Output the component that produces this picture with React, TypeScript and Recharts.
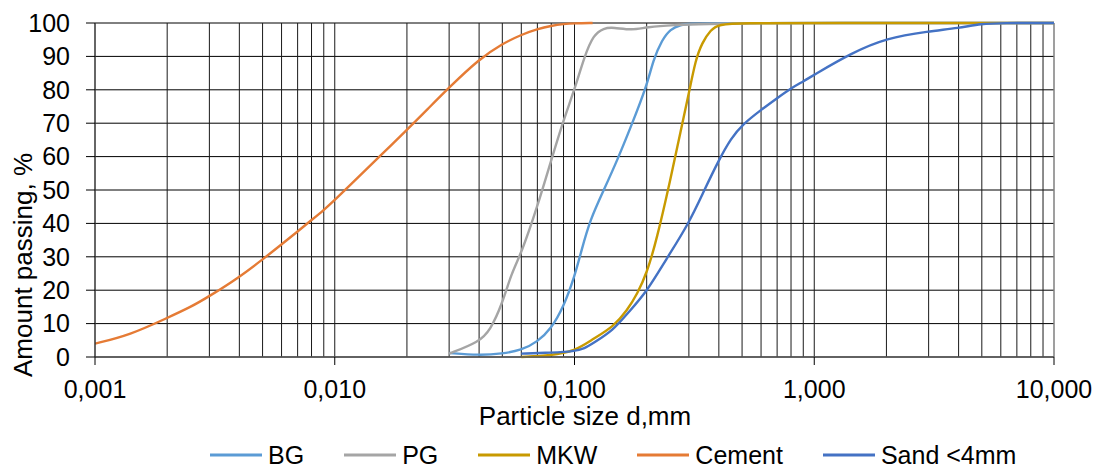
import React from 'react';
import { LineChart, Line, XAxis, YAxis, CartesianGrid, Legend, ReferenceLine } from 'recharts';

// particle size (mm) / amount passing (%)
const bgSize = [0.03, 0.04, 0.05, 0.06, 0.07, 0.08, 0.09, 0.1, 0.107, 0.116, 0.1325, 0.151, 0.172, 0.2, 0.213, 0.232, 0.251, 0.278, 0.3, 0.4, 1, 10];
const bgPass = [1.2, 0.5, 1, 2, 4.5, 8.5, 15, 24, 32, 41, 50, 59, 69, 81, 89, 95, 98.2, 99.5, 99.8, 100, 100, 100];

const pgSize = [0.03, 0.04, 0.0445, 0.05, 0.0545, 0.06, 0.07, 0.08, 0.09, 0.1, 0.11, 0.12, 0.1325, 0.145, 0.174, 0.2, 0.26, 0.35, 0.6, 1, 10];
const pgPass = [1, 4.5, 8, 16, 25, 31, 45, 59, 71, 80, 90, 96.5, 98.5, 98.7, 97.8, 98.8, 99.4, 99.7, 100, 100, 100];

const mkwSize = [0.06, 0.08, 0.1, 0.12, 0.145, 0.166, 0.183, 0.2, 0.22, 0.251, 0.278, 0.3, 0.32, 0.34, 0.37, 0.4, 0.5, 1, 10];
const mkwPass = [0, 0.5, 1.7, 5.5, 9, 14, 19, 25, 35, 53, 68, 79, 89, 94, 98, 99.6, 100, 100, 100];

const cementSize = [0.001, 0.0014, 0.002, 0.0025, 0.003, 0.004, 0.005, 0.006, 0.007, 0.008, 0.009, 0.01, 0.012, 0.015, 0.02, 0.025, 0.03, 0.04, 0.05, 0.06, 0.07, 0.08, 0.09, 0.1, 0.119];
const cementPass = [4, 6.6, 11.7, 14.9, 18.2, 23.9, 29.2, 33.7, 37.6, 41, 44, 47, 52.5, 59.3, 68, 75, 80.7, 89.2, 93.8, 96.5, 98.2, 99.2, 99.7, 99.9, 100];

const sandSize = [0.06, 0.08, 0.1, 0.11, 0.12, 0.145, 0.166, 0.2, 0.24, 0.3, 0.348, 0.4, 0.45, 0.5, 0.6, 0.7, 0.8, 0.9, 1, 1.43, 2, 3, 4, 5, 6, 10];
const sandPass = [1, 1.3, 1.7, 2.5, 4.2, 8, 13, 19.5, 29, 40, 50, 59, 65.5, 69.5, 74, 77.5, 80.5, 82.5, 84.5, 91, 95.5, 97.5, 98.5, 99.8, 100, 100];

const xTicks = [0.001, 0.01, 0.1, 1, 10];
const xTickLabels = ['0,001', '0,010', '0,100', '1,000', '10,000'];
const yTicks = [0, 10, 20, 30, 40, 50, 60, 70, 80, 90, 100];

// every 1..9 step of each decade, for the log grid
const gridSizes = [
  0.002, 0.003, 0.004, 0.005, 0.006, 0.007, 0.008, 0.009, 0.01,
  0.02, 0.03, 0.04, 0.05, 0.06, 0.07, 0.08, 0.09, 0.1,
  0.2, 0.3, 0.4, 0.5, 0.6, 0.7, 0.8, 0.9, 1,
  2, 3, 4, 5, 6, 7, 8, 9, 10,
];

const series = [
  { key: 'bg', name: 'BG', color: '#5B9BD5', xs: bgSize, ys: bgPass },
  { key: 'pg', name: 'PG', color: '#A5A5A5', xs: pgSize, ys: pgPass },
  { key: 'mkw', name: 'MKW', color: '#C89A00', xs: mkwSize, ys: mkwPass },
  { key: 'cement', name: 'Cement', color: '#E57B35', xs: cementSize, ys: cementPass },
  { key: 'sand', name: 'Sand <4mm', color: '#4472C4', xs: sandSize, ys: sandPass },
];

// one table, sorted by size, each series filling only its own sizes
const rowMap = new Map<number, Record<string, number>>();
series.forEach((s) => {
  s.xs.forEach((x, i) => {
    const row = rowMap.get(x) ?? { x };
    row[s.key] = s.ys[i];
    rowMap.set(x, row);
  });
});
const table = Array.from(rowMap.values()).sort((a, b) => a.x - b.x);

const FONT = '"Liberation Sans", Arial, sans-serif';

const YTitle = () => (
  <text x={32} y={265} transform="rotate(-90, 32, 265)" textAnchor="middle" fontSize={26} fill="#000" fontFamily={FONT}>
    Amount passing, %
  </text>
);

const XTitle = () => (
  <text x={585} y={425} textAnchor="middle" fontSize={26} fill="#000" fontFamily={FONT}>
    Particle size d,mm
  </text>
);

const LegendBox = () => (
  <div style={{ display: 'flex', alignItems: 'center', paddingLeft: 210, height: 22, fontFamily: FONT, fontSize: 25, color: '#000', whiteSpace: 'nowrap' }}>
    {series.map((s) => (
      <div key={s.name} style={{ display: 'flex', alignItems: 'center', marginRight: 40, height: 22 }}>
        <svg width={52} height={4} style={{ marginRight: 6 }}>
          <line x1={0} y1={2} x2={52} y2={2} stroke={s.color} strokeWidth={3} />
        </svg>
        <span style={{ lineHeight: '22px' }}>{s.name}</span>
      </div>
    ))}
  </div>
);

export default function App() {
  return (
    <div style={{ position: 'absolute', left: 0, top: 0, fontFamily: FONT }}>
      <LineChart width={1097} height={470} data={table} margin={{ top: 23, right: 43, left: 0, bottom: 0 }}>
        <CartesianGrid stroke="#000" strokeWidth={1} vertical={false} />
        {gridSizes.map((v) => (
          <ReferenceLine key={v} x={v} stroke={v === 10 ? '#7f7f7f' : '#1a1a1a'} strokeWidth={v === 10 ? 1.5 : 1} zIndex={-10} />
        ))}
        <XAxis
          dataKey="x"
          type="number"
          scale="log"
          domain={[0.001, 10]}
          ticks={xTicks}
          allowDataOverflow
          tickFormatter={(v: number) => xTickLabels[xTicks.indexOf(v)] ?? String(v)}
          height={113}
          tickSize={8}
          tickMargin={15}
          axisLine={{ stroke: '#595959', strokeWidth: 1.5 }}
          tickLine={{ stroke: '#000' }}
          tick={{ fill: '#000', fontSize: 25, fontFamily: FONT }}
          label={<XTitle />}
        />
        <YAxis
          type="number"
          domain={[0, 100]}
          ticks={yTicks}
          interval={0}
          width={95}
          tickSize={9}
          tickMargin={16}
          axisLine={{ stroke: '#333', strokeWidth: 1.5 }}
          tickLine={{ stroke: '#000' }}
          tick={{ fill: '#000', fontSize: 25, fontFamily: FONT }}
          label={<YTitle />}
        />
        <Legend
          layout="horizontal"
          verticalAlign="middle"
          align="center"
          wrapperStyle={{ left: 0, top: 444, width: 1097 }}
          content={() => <LegendBox />}
        />
        {series.map((s) => (
          <Line
            key={s.key}
            dataKey={s.key}
            name={s.name}
            type="basis"
            stroke={s.color}
            strokeWidth={2.4}
            dot={false}
            activeDot={false}
            connectNulls
            isAnimationActive={false}
          />
        ))}
      </LineChart>
    </div>
  );
}
